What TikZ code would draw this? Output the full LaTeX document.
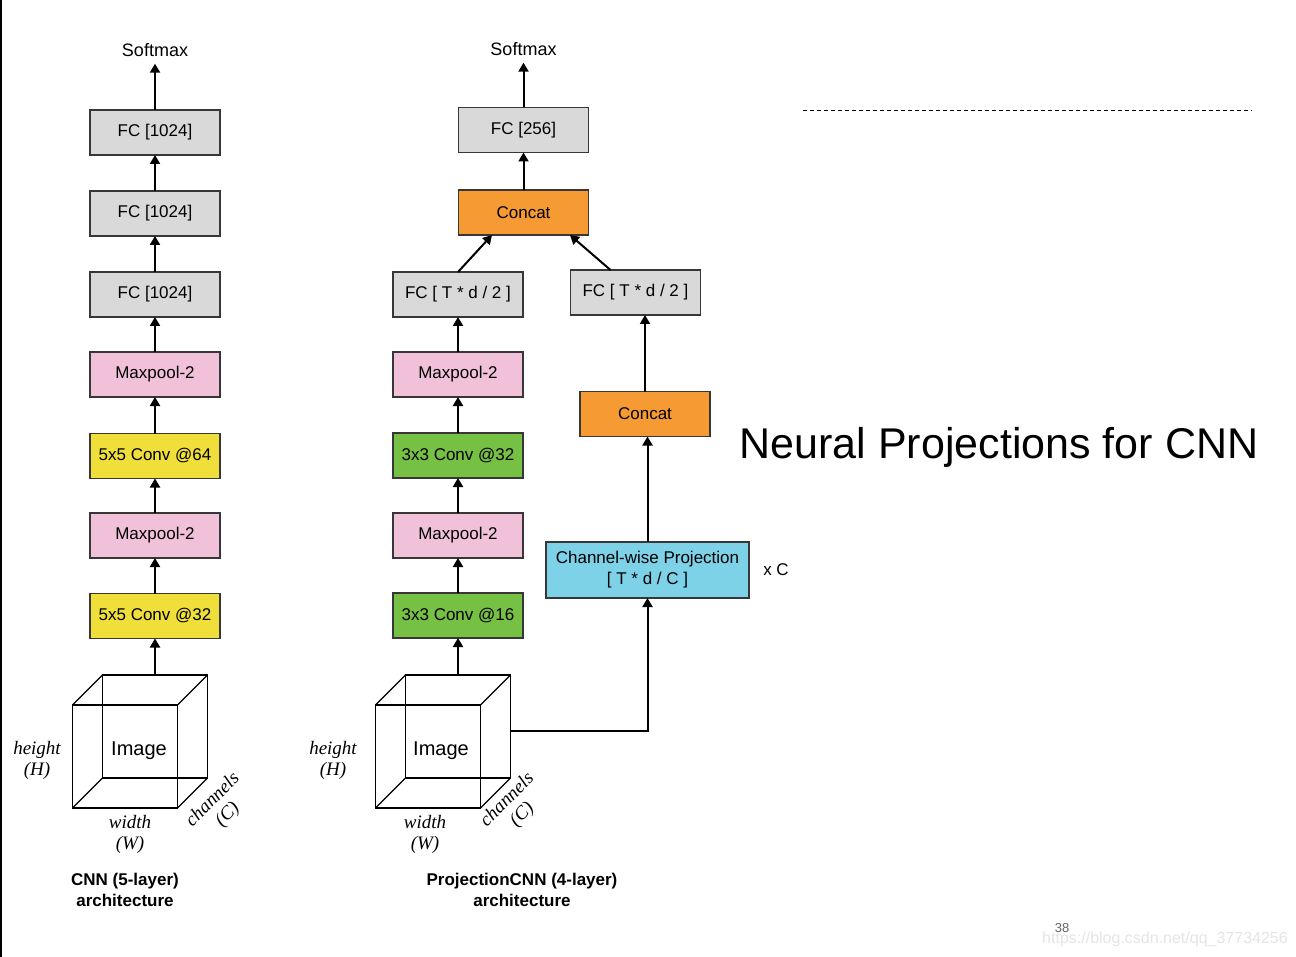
\documentclass[tikz,border=0pt]{standalone}
\usepackage{fontspec}
\setmainfont{Liberation Sans}
\newfontfamily\dimfont{Liberation Serif}
\usetikzlibrary{arrows.meta, calc}
\definecolor{fcgray}{RGB}{217,217,217}
\definecolor{poolpink}{RGB}{241,193,218}
\definecolor{convyellow}{RGB}{240,223,58}
\definecolor{convgreen}{RGB}{118,192,67}
\definecolor{catorange}{RGB}{246,154,51}
\definecolor{projblue}{RGB}{125,210,232}
\definecolor{edgegray}{RGB}{55,55,55}

\begin{document}
\begin{tikzpicture}[
        x=0.5pt, y=-0.5pt,
        font=\fontsize{8.5}{10.5}\selectfont,
        blk/.style={draw=edgegray, line width=0.6pt, minimum width=65pt, minimum height=22.5pt, inner sep=0pt, outer sep=0pt, align=center},
        fcbox/.style={blk, fill=fcgray},
        poolbox/.style={blk, fill=poolpink},
        convYbox/.style={blk, fill=convyellow},
        convGbox/.style={blk, fill=convgreen},
        catbox/.style={blk, fill=catorange},
        projbox/.style={blk, fill=projblue, minimum width=101.5pt, minimum height=28pt},
        cubeface/.style={draw, line width=0.6pt, minimum width=52.5pt, minimum height=51.5pt, inner sep=0pt, outer sep=0pt},
        dimtext/.style={font=\dimfont\itshape\fontsize{9.5}{10.5}\selectfont, align=center},
        captext/.style={font=\bfseries\fontsize{8.5}{10.5}\selectfont, align=center},
        arr/.style={-{Triangle[length=4.5pt, width=5pt]}, line width=1pt},
    ]
        \fill[white] (0,0) rectangle (1296,957);
        \useasboundingbox (0,0) rectangle (1296,957);
        \draw[line width=1.2pt] (1,0) -- (1,957);

        % CNN (5-layer), bottom to top
        \node[convYbox] (convL1) at (155,616)   {5x5 Conv @32};
        \node[poolbox]  (poolL1) at (155,535.5) {Maxpool-2};
        \node[convYbox] (convL2) at (155,456)   {5x5 Conv @64};
        \node[poolbox]  (poolL2) at (155,374.5) {Maxpool-2};
        \node[fcbox]    (fcL3)   at (155,294.5) {FC [1024]};
        \node[fcbox]    (fcL2)   at (155,213.5) {FC [1024]};
        \node[fcbox]    (fcL1)   at (155,132.5) {FC [1024]};
        \node (smL) at (155,50) {\fontsize{9}{10}\selectfont Softmax};

        % left image cube
        \node[cubeface] (imgLf) at (125,756.5) {};
        \node[cubeface] (imgLb) at (155,726.5) {};
        \draw[line width=0.6pt] (imgLf.north west) -- (imgLb.north west);
        \draw[line width=0.6pt] (imgLf.north east) -- (imgLb.north east);
        \draw[line width=0.6pt] (imgLf.south west) -- (imgLb.south west);
        \draw[line width=0.6pt] (imgLf.south east) -- (imgLb.south east);
        \node (imgLtxt) at (139,751) {\fontsize{10}{12}\selectfont Image};
        \node[dimtext] (hL) at (37,760) {height\\(H)};
        \node[dimtext] (wL) at (130,834) {width\\(W)};
        \node[dimtext, rotate=45] (cL) at (220.5,807.5) {channels\\(C)};
        \node[captext] (capL) at (125,889.5) {CNN (5-layer)\\architecture};

        % ProjectionCNN (4-layer), left branch
        \node[convGbox] (convR1) at (458,615.5) {3x3 Conv @16};
        \node[poolbox]  (poolR1) at (458,535.5) {Maxpool-2};
        \node[convGbox] (convR2) at (458,455.5) {3x3 Conv @32};
        \node[poolbox]  (poolR2) at (458,374.5) {Maxpool-2};
        \node[fcbox]    (fcA)    at (458,294.5) {FC [ T * d / 2 ]};

        % right branch
        \node[projbox] (proj) at (647.5,570) {Channel-wise Projection\\{[ T * d / C ]}};
        \node (xC) at (776,570) {x C};
        \node[catbox] (catB) at (645,414) {Concat};
        \node[fcbox]  (fcB)  at (635.5,292.5) {FC [ T * d / 2 ]};

        % merge and output
        \node[catbox] (catT)   at (523.5,212.5) {Concat};
        \node[fcbox]  (fcR256) at (523.5,130) {FC [256]};
        \node (smR) at (523.5,49) {\fontsize{9}{10}\selectfont Softmax};

        % right image cube
        \node[cubeface] (imgRf) at (428,756.5) {};
        \node[cubeface] (imgRb) at (458,726.5) {};
        \draw[line width=0.6pt] (imgRf.north west) -- (imgRb.north west);
        \draw[line width=0.6pt] (imgRf.north east) -- (imgRb.north east);
        \draw[line width=0.6pt] (imgRf.south west) -- (imgRb.south west);
        \draw[line width=0.6pt] (imgRf.south east) -- (imgRb.south east);
        \node (imgRtxt) at (441,751) {\fontsize{10}{12}\selectfont Image};
        \node[dimtext] (hR) at (333,760) {height\\(H)};
        \node[dimtext] (wR) at (425,834) {width\\(W)};
        \node[dimtext, rotate=45] (cR) at (515,807.5) {channels\\(C)};
        \node[captext] (capR) at (522,889.5) {ProjectionCNN (4-layer)\\architecture};

        % Arrows: CNN column
        \draw[arr] (imgLb.north) -- (convL1);
        \draw[arr] (convL1) -- (poolL1);
        \draw[arr] (poolL1) -- (convL2);
        \draw[arr] (convL2) -- (poolL2);
        \draw[arr] (poolL2) -- (fcL3);
        \draw[arr] (fcL3) -- (fcL2);
        \draw[arr] (fcL2) -- (fcL1);
        \draw[arr] (fcL1) -- (smL);

        % Arrows: ProjectionCNN
        \draw[arr] (imgRb.north) -- (convR1);
        \draw[arr] (convR1) -- (poolR1);
        \draw[arr] (poolR1) -- (convR2);
        \draw[arr] (convR2) -- (poolR2);
        \draw[arr] (poolR2) -- (fcA);
        \draw[arr] ($(imgRb.east)+(0,4)$) -| (proj.south);
        \draw[arr] (proj.north) -- (proj.north |- catB.south);
        \draw[arr] (catB.north) -- (catB.north |- fcB.south);
        \draw[arr] (fcA.north) -- ($(catT.south)+(-31.5,0)$);
        \draw[arr] ($(fcB.north)+(-25,0)$) -- ($(catT.south)+(46.5,0)$);
        \draw[arr] (catT) -- (fcR256);
        \draw[arr] (fcR256) -- (smR);

        % title side
        \coordinate (dashA) at (803,111);
        \coordinate (dashB) at (1252,111);
        \draw[line width=0.5pt, dash pattern=on 2pt off 1.5pt] (dashA) -- (dashB);
        \node (title) at (999,447) {\fontsize{21.5}{24}\selectfont Neural Projections for CNN};
        \node[text=black!60] (pageno) at (1062,928) {\fontsize{6.5}{7}\selectfont 38};
        \node[text=black!10] (wmark) at (1165,939) {\fontsize{8}{9}\selectfont https://blog.csdn.net/qq\_37734256};
    \end{tikzpicture}
\end{document}
